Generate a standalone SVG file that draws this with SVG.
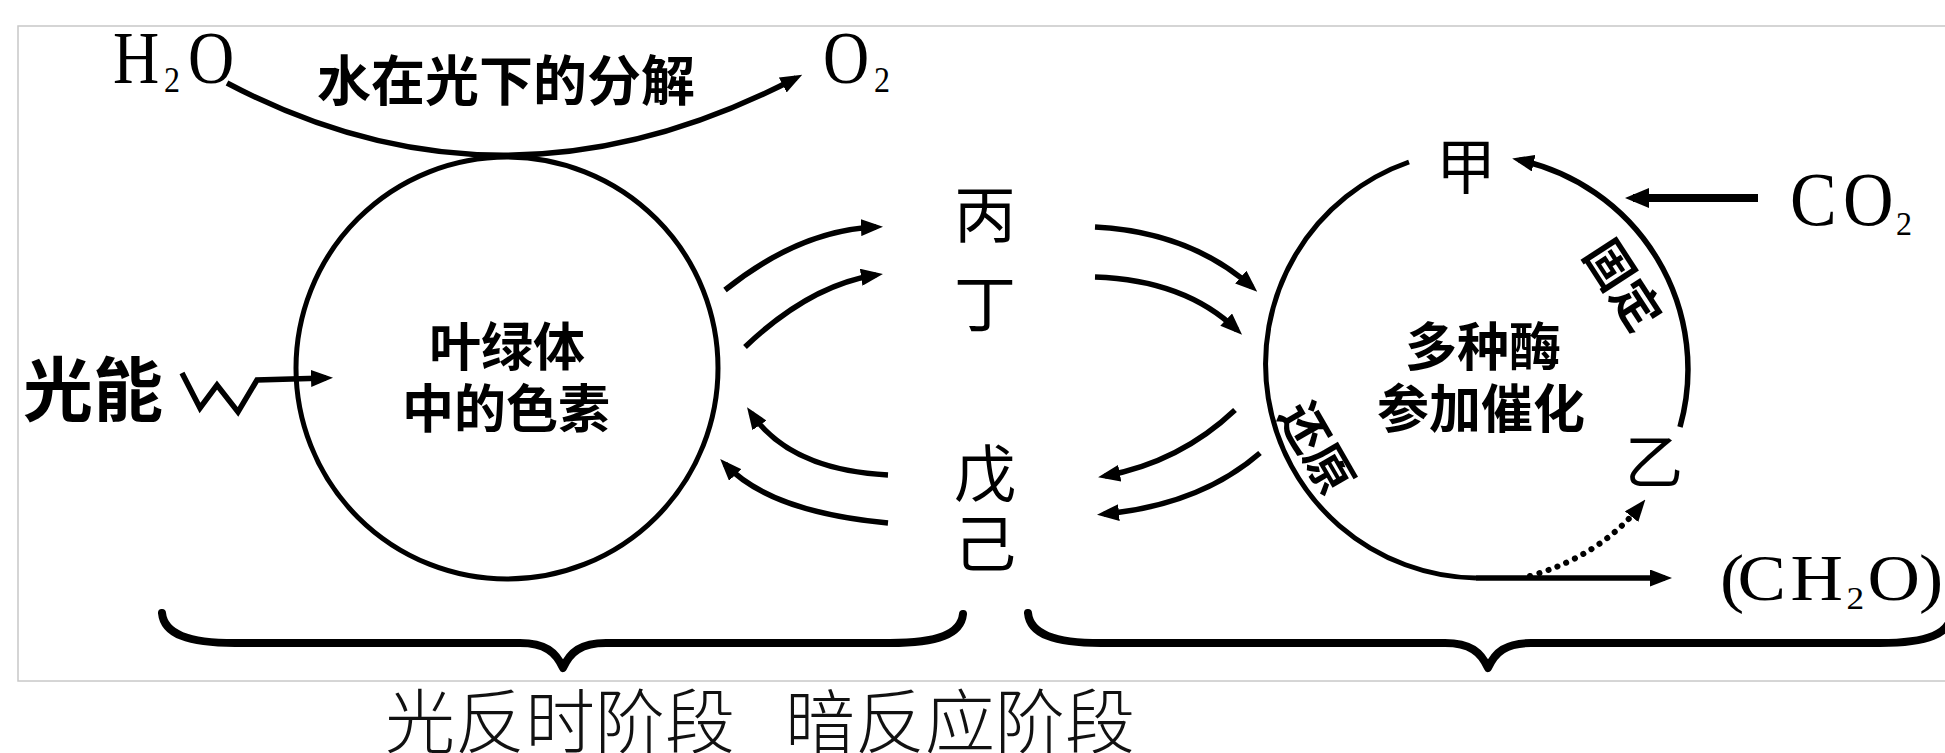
<svg xmlns="http://www.w3.org/2000/svg" width="1945" height="753" viewBox="0 0 1945 753">
<defs>
<style>
.ln{fill:none;stroke:#000;stroke-width:5.5;stroke-linecap:butt}
.zig{fill:none;stroke:#000;stroke-width:5.5;stroke-linejoin:miter}
.thick{fill:none;stroke:#000;stroke-width:8}
.dot{fill:none;stroke:#000;stroke-width:6;stroke-linecap:round;stroke-dasharray:0.1 9.5}
.cir{fill:none;stroke:#000;stroke-width:5}
.cjkb{font-family:"Noto Sans CJK SC",sans-serif;font-weight:700;fill:#000;dominant-baseline:central;text-anchor:middle}
.cjk{font-family:"Noto Sans CJK SC",sans-serif;font-weight:400;fill:#000;dominant-baseline:central;text-anchor:middle}
.chem{font-family:"Liberation Serif",serif;fill:#000}
.brace{fill:none;stroke:#000;stroke-width:8;stroke-linecap:round;stroke-linejoin:round}
</style>
<marker id="ah" viewBox="0 0 22 17" refX="15" refY="8.5" markerWidth="22" markerHeight="17" markerUnits="userSpaceOnUse" orient="auto"><path d="M0,0 L22,8.5 L0,17 Z" fill="#000"/></marker>
<marker id="ahb" viewBox="0 0 24 20" refX="16" refY="10" markerWidth="24" markerHeight="20" markerUnits="userSpaceOnUse" orient="auto"><path d="M0,0 L24,10 L0,20 Z" fill="#000"/></marker>
</defs>
<rect width="1945" height="753" fill="#fff"/>
<rect x="18" y="26" width="1940" height="655" fill="none" stroke="#c8c8c8" stroke-width="1.5"/>

<g id="node-h2o">
<text class="chem" font-size="64" transform="translate(0,83) scale(1,1.15)"><tspan x="113" y="0">H</tspan><tspan x="164" y="8" font-size="32">2</tspan><tspan x="188" y="0">O</tspan></text>
</g>
<g id="node-o2">
<text class="chem" font-size="64" transform="translate(0,83) scale(1,1.15)"><tspan x="823" y="0">O</tspan><tspan x="874" y="8" font-size="32">2</tspan></text>
</g>
<g id="node-photolysis-label">
<text class="cjkb" x="506" y="77" font-size="54">水在光下的分解</text>
</g>
<g id="node-chloroplast">
<circle class="cir" cx="507" cy="368" r="211"/>
<text class="cjkb" font-size="52"><tspan x="507" y="343">叶绿体</tspan><tspan x="506" y="405">中的色素</tspan></text>
</g>
<g id="node-light">
<text class="cjkb" x="93" y="385" font-size="70">光能</text>
</g>
<g id="node-bing"><text class="cjk" x="985" y="211" font-size="62">丙</text></g>
<g id="node-ding"><text class="cjk" x="985" y="300" font-size="62">丁</text></g>
<g id="node-wu"><text class="cjk" x="985" y="470" font-size="62">戊</text></g>
<g id="node-ji"><text class="cjk" x="985" y="540" font-size="62">己</text></g>

<g id="node-calvin">
<path class="cir" d="M1409 162 A214 214 0 0 0 1476 578"/>
<text class="cjkb" font-size="52"><tspan x="1483" y="343">多种酶</tspan><tspan x="1481" y="405">参加催化</tspan></text>
<text class="cjkb" font-size="48" transform="translate(1626,283) rotate(57)" x="0" y="0">固定</text>
<text class="cjkb" font-size="48" transform="translate(1320,446) rotate(60)" x="0" y="0">还原</text>
</g>
<g id="node-jia"><text class="cjk" x="1466" y="162" font-size="60">甲</text></g>
<g id="node-yi"><text class="cjk" x="1654" y="458" font-size="58">乙</text></g>
<g id="node-co2">
<text class="chem" font-size="70" transform="translate(0,225) scale(1,1.08)"><tspan x="1790" y="0">C</tspan><tspan x="1843" y="0">O</tspan><tspan x="1896" y="9" font-size="32">2</tspan></text>
</g>
<g id="node-ch2o">
<text class="chem" font-size="66" transform="translate(1720,600) scale(1.1,1)"><tspan x="0" y="0">(</tspan><tspan x="16" y="0">C</tspan><tspan x="64" y="0">H</tspan><tspan x="115" y="9" font-size="32">2</tspan><tspan x="134" y="0">O</tspan><tspan x="181" y="0">)</tspan></text>
</g>

<g id="connectors">
<path class="ln" d="M227 83 Q505 230 796 78" marker-end="url(#ah)"/>
<path class="zig" d="M182 373 L200 408 L217 385 L238 412 L257 380 L326 378" marker-end="url(#ah)"/>
<path class="ln" d="M725 290 Q800 230 876 227" marker-end="url(#ah)"/>
<path class="ln" d="M745 347 Q810 285 876 275" marker-end="url(#ah)"/>
<path class="ln" d="M888 475 Q790 470 751 413" marker-end="url(#ah)"/>
<path class="ln" d="M888 523 Q770 512 725 464" marker-end="url(#ah)"/>
<path class="ln" d="M1095 227 Q1190 232 1252 287" marker-end="url(#ah)"/>
<path class="ln" d="M1095 277 Q1185 280 1237 330" marker-end="url(#ah)"/>
<path class="ln" d="M1235 410 Q1180 462 1105 476" marker-end="url(#ah)"/>
<path class="ln" d="M1260 453 Q1200 505 1104 514" marker-end="url(#ah)"/>
<path class="ln" d="M1476 578 L1665 578" marker-end="url(#ah)"/>
<path class="ln" d="M1680 427 A214 214 0 0 0 1519 160" marker-end="url(#ah)"/>
<path class="thick" d="M1758 198 L1633 198" marker-end="url(#ahb)"/>
<path class="dot" d="M1530 576 Q1600 556 1641 505" marker-end="url(#ah)"/>
</g>

<g id="node-braces">
<path class="brace" d="M162 613 C164 634 188 643 235 643 L520 643 C545 643 556 652 563 668 C570 652 581 643 606 643 L890 643 C938 643 961 634 963 614"/>
<path class="brace" d="M1028 613 C1030 634 1054 643 1101 643 L1445 643 C1470 643 1481 652 1488 668 C1495 652 1506 643 1531 643 L1880 643 C1928 643 1950 634 1952 613"/>
</g>

<g id="node-stage-labels">
<text font-family="Noto Sans CJK SC, sans-serif" font-weight="300" font-size="70" fill="#111" dominant-baseline="central" y="717"><tspan x="385">光反时阶段</tspan> <tspan x="785">暗反应阶段</tspan></text>
</g>
</svg>
